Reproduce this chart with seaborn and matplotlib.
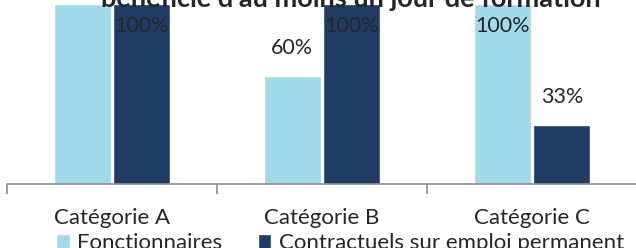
import pandas as pd
import seaborn as sns
import matplotlib.pyplot as plt

categories = ["Catégorie A", "Catégorie B", "Catégorie C"]
series = ["Fonctionnaires", "Contractuels sur emploi permanent"]
fonctionnaires = [100, 60, 100]
contractuels = [100, 100, 33]
colors = ["#A0DAEB", "#1F3D64"]

df = pd.DataFrame({
    "categorie": categories * 2,
    "statut": [series[0]] * 3 + [series[1]] * 3,
    "valeur": fonctionnaires + contractuels,
})

sns.set_style("white")
plt.rcParams["font.family"] = ["Lato", "DejaVu Sans"]

fig = plt.figure(figsize=(6.36, 2.48), dpi=100)
ax = fig.add_axes([7 / 636, 64 / 248, 630 / 636, 184 / 248])

sns.barplot(data=df, x="categorie", y="valeur", hue="statut", palette=colors,
            width=0.57, gap=0.05, ax=ax, legend=True, saturation=1)

ax.set_ylim(0, 102.2)
ax.set_xlim(-0.5, 2.5)
ax.set_xlabel("")
ax.set_ylabel("")
ax.set_yticks([])
for s in ["top", "right", "left"]:
    ax.spines[s].set_visible(False)
ax.spines["bottom"].set_color("#8C8C8C")
ax.spines["bottom"].set_linewidth(1.2)
ax.tick_params(axis="x", which="major", length=0, labelsize=16, pad=17)
ax.set_xticks([-0.5, 0.5, 1.5], minor=True)
ax.tick_params(axis="x", which="minor", bottom=True, length=7, width=1.2,
               color="#8C8C8C", direction="out")

# étiquettes de données
for i, (cont, vals) in enumerate(zip(ax.containers, [fonctionnaires, contractuels])):
    for j, (bar, v) in enumerate(zip(cont, vals)):
        x = bar.get_x() + bar.get_width() / 2
        if i == 0 and j == 0:
            continue  # étiquette masquée par le titre
        if v >= 100:
            ax.text(x, v - 6.5, f"{v}%", ha="center", va="top", fontsize=15.5)
        else:
            ax.text(x, v + 10, f"{v}%", ha="center", va="bottom", fontsize=15.5)

leg = ax.legend(loc="upper left", bbox_to_anchor=(0.064, -0.22), ncol=2, frameon=False,
                fontsize=16, handlelength=0.6, handleheight=0.6, handletextpad=0.35,
                columnspacing=1.6, borderaxespad=0)

fig.text(351 / 636, 1 - 7 / 248, "bénéficié d'au moins un jour de formation",
         ha="center", va="baseline", fontsize=19.5, fontweight="bold")

fig.savefig("out.png", dpi=100)
